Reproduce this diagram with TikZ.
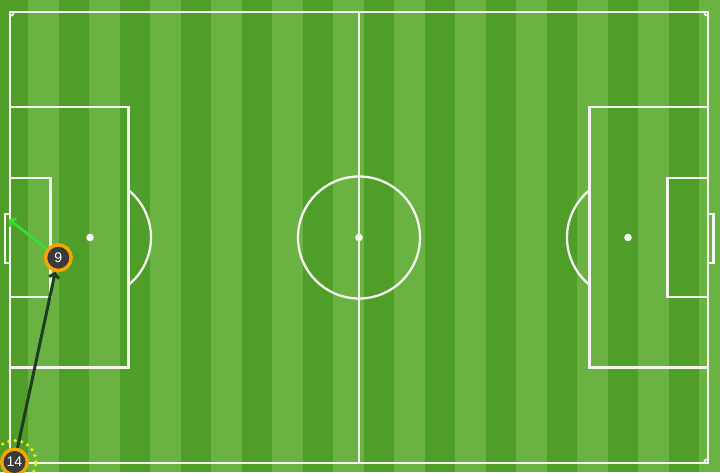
\documentclass[tikz,border=0pt]{standalone}
\usepackage{fontspec}
\newfontfamily\numfont{Liberation Sans}
\usetikzlibrary{arrows.meta}

\definecolor{grassdark}{RGB}{80,158,42}
\definecolor{grasslight}{RGB}{106,179,66}
\definecolor{linewhite}{RGB}{244,244,240}
\definecolor{ringorange}{RGB}{246,166,0}
\definecolor{discgrey}{RGB}{58,58,58}
\definecolor{passdark}{RGB}{34,60,34}
\definecolor{shotgreen}{RGB}{58,222,58}
\definecolor{ringyellow}{RGB}{236,236,20}

\begin{document}
\begin{tikzpicture}[x=1pt, y=-1pt,
    pitchline/.style={draw=linewhite, line width=2.3pt},
    spot/.style={fill=linewhite},
    player/.style={circle, fill=discgrey, draw=ringorange, line width=3.3pt, minimum size=25.5pt, inner sep=0pt, text=white, font=\numfont\fontsize{14}{14}\selectfont},
    pass/.style={-{Straight Barb[length=4pt,width=10pt]}, line width=3pt, passdark},
    shot/.style={-{Straight Barb[length=4pt,width=10pt]}, line width=2.6pt, shotgreen}]
    \path[use as bounding box, clip] (0,0) rectangle (720,472);
    %% Grass stripes
    \fill[grassdark] (0,0) rectangle (720,472);
    \foreach \i in {0,...,11}
        \fill[grasslight] ({28+2*\i*30.5},0) rectangle ({58.5+2*\i*30.5},472);

    %% Pitch markings
    \draw[pitchline] (10,12) rectangle (708,463);
    \draw[pitchline] (359,12) -- (359,463);
    \draw[pitchline] (359,237.5) circle[radius=61pt];
    \fill[spot] (359,237.5) circle[radius=3.8pt];
    \draw[pitchline, line width=1.8pt] (14,12) arc[start angle=0, end angle=-90, radius=4pt];
    \draw[pitchline, line width=1.8pt] (704,12) arc[start angle=180, end angle=270, radius=4pt];
    \draw[pitchline, line width=1.8pt] (14,463) arc[start angle=0, end angle=90, radius=4pt];
    \draw[pitchline, line width=1.8pt] (704,463) arc[start angle=180, end angle=90, radius=4pt];
        %% left end
        \draw[pitchline] (10,107) rectangle (128.5,367.5);
        \draw[pitchline] (10,178) rectangle (50.5,297);
        \draw[pitchline] (10,214) rectangle (5,263);
        \fill[spot] (90,237.5) circle[radius=3.8pt];
        \draw[pitchline] (128.5,190.2) arc[start angle=50.9, end angle=-50.9, radius=61pt];
        %% right end
        \draw[pitchline] (589.5,107) rectangle (708,367.5);
        \draw[pitchline] (667.5,178) rectangle (708,297);
        \draw[pitchline] (708,214) rectangle (713.5,263);
        \fill[spot] (628,237.5) circle[radius=3.8pt];
        \draw[pitchline] (589.5,190.2) arc[start angle=129.1, end angle=230.9, radius=61pt];

    %% Players
    \node[player] (p9) at (58.3,257.7) {9};
    \node[player] (p14) at (14.5,462) {14};
    \coordinate (shotend) at (9,219.5);
    \draw[ringyellow, line width=3.6pt, line cap=round, dash pattern=on 0pt off 6.6pt] (p14.center) circle[radius=21.5pt];

    %% Pass and shot
    \draw[pass] (p14) -- (p9);
    \draw[shot] (p9) -- (shotend);
    \node[player] at (p9.center) {9};
    \node[player] at (p14.center) {14};
\end{tikzpicture}
\end{document}
